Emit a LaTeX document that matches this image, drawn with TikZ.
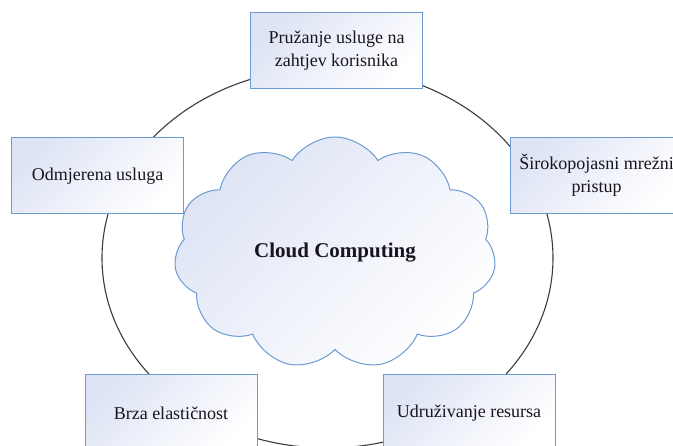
\documentclass[tikz,border=0pt]{standalone}
\usepackage{fontspec}
\setmainfont{Liberation Serif}
\usetikzlibrary{shapes,shapes.symbols,positioning}
\definecolor{boxcolor}{RGB}{108,155,210}
\definecolor{shadecolor}{RGB}{222,228,245}
\definecolor{ringcolor}{RGB}{60,60,60}
\definecolor{textcolor}{RGB}{25,20,30}

\begin{document}
\begin{tikzpicture}[x=1pt, y=1pt,
    box/.style={rectangle, draw=boxcolor, line width=1pt, minimum width=172pt, minimum height=76pt, align=center,
        top color=shadecolor, bottom color=white, shading angle=45, text=textcolor, font=\fontsize{18}{23}\selectfont},
    cloudbox/.style={cloud, cloud puffs=11, cloud puff arc=115, cloud ignores aspect, draw=boxcolor, line width=1pt,
        minimum width=322pt, minimum height=232pt, top color=shadecolor, bottom color=white, shading angle=45,
        text=textcolor, font=\fontsize{21}{25}\selectfont\bfseries},
    ring/.style={draw=ringcolor, line width=1.1pt}
]

% Frame
\clip (0,0) rectangle (673,446);
\fill[white] (0,0) rectangle (673,446);

% Outer ring
\coordinate (ringc) at (327.5,188);
\draw[ring] (ringc) ellipse [x radius=225.5pt, y radius=190pt];

% Center
\node[cloudbox] (cloud) at (335,193) {Cloud Computing};

% Characteristics
\node[box] (ondemand) at (336.5,395.5) {Pružanje usluge na\\zahtjev korisnika};
\node[box] (measured) at (97.5,270) {Odmjerena usluga};
\node[box] (network) at (596.5,270.5) {Širokopojasni mrežni\\pristup};
\node[box] (elastic) at (171,33) {Brza elastičnost};
\node[box] (pooling) at (469,33) {Udruživanje resursa};

\end{tikzpicture}
\end{document}
